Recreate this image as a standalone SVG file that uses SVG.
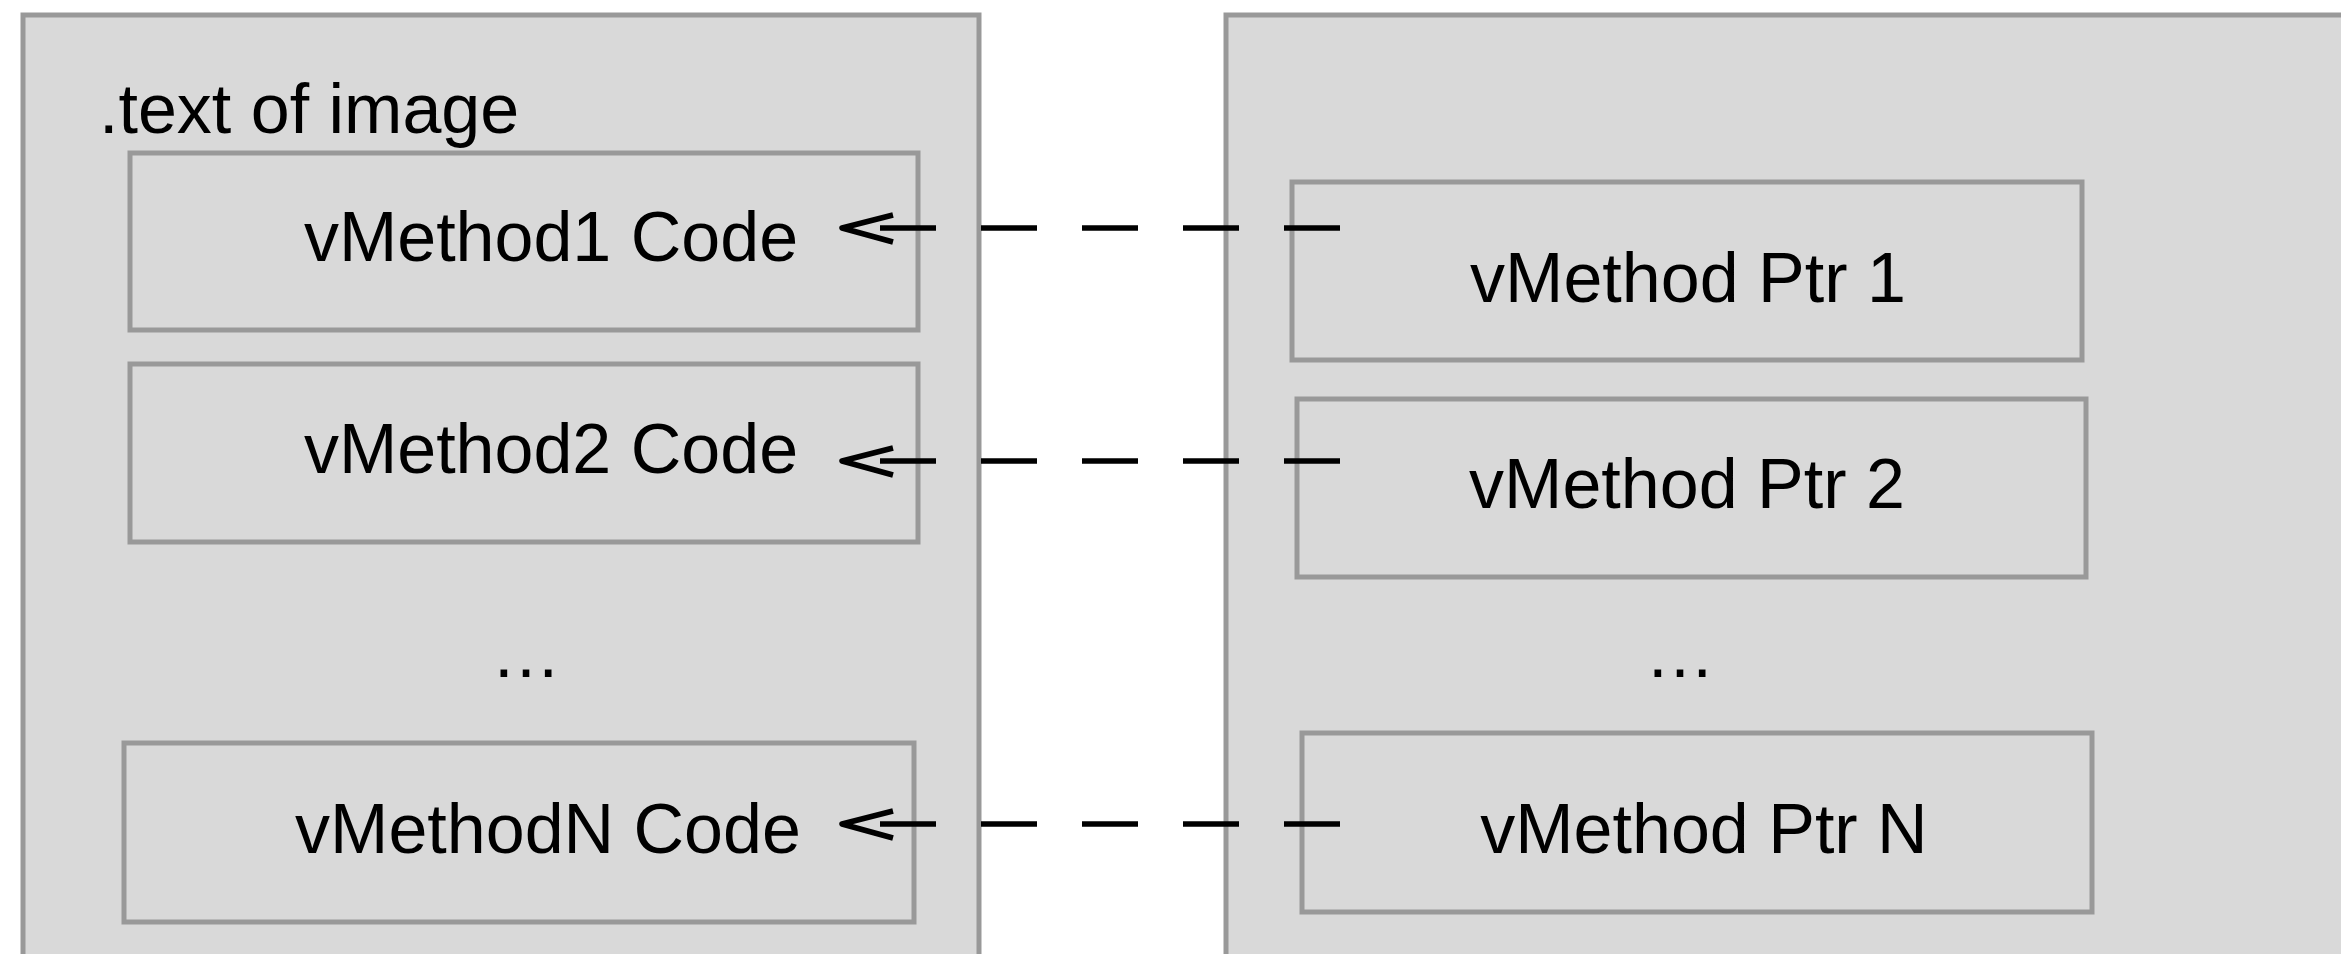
<svg xmlns="http://www.w3.org/2000/svg" width="2341" height="954" viewBox="0 0 2341 954">
  <style>
    .panel { fill: #d9d9d9; stroke: #999999; stroke-width: 5; }
    .box { fill: #d9d9d9; stroke: #999999; stroke-width: 5; }
    .label { font-family: "Liberation Sans", Arial, sans-serif; font-size: 70px; fill: #000000; }
    .mid { text-anchor: middle; }
    .link { fill: none; stroke: #000000; stroke-width: 5.5; stroke-dasharray: 56 45; }
    .head { fill: none; stroke: #000000; stroke-width: 5.5; stroke-linejoin: round; }
  </style>
  <rect width="2341" height="954" fill="#ffffff"/>

  <!-- code section of the image -->
  <g id="text-section">
    <rect class="panel" x="23" y="15" width="956" height="960"/>
    <text class="label" x="99" y="133">.text of image</text>
  </g>
  <g id="code1">
    <rect class="box" x="130" y="153" width="788" height="177"/>
    <text class="label mid" x="551" y="261">vMethod1 Code</text>
  </g>
  <g id="code2">
    <rect class="box" x="130" y="364" width="788" height="178"/>
    <text class="label mid" x="551" y="473">vMethod2 Code</text>
  </g>
  <g id="code-ellipsis">
    <text class="label mid" x="526" y="677">…</text>
  </g>
  <g id="codeN">
    <rect class="box" x="124" y="743" width="790" height="179"/>
    <text class="label mid" x="548" y="853">vMethodN Code</text>
  </g>

  <!-- virtual method table -->
  <g id="vtable">
    <rect class="panel" x="1226" y="15" width="1140" height="960"/>
  </g>
  <g id="ptr1">
    <rect class="box" x="1292" y="182" width="790" height="178"/>
    <text class="label mid" x="1688" y="302">vMethod Ptr 1</text>
  </g>
  <g id="ptr2">
    <rect class="box" x="1297" y="399" width="789" height="178"/>
    <text class="label mid" x="1687" y="508">vMethod Ptr 2</text>
  </g>
  <g id="ptr-ellipsis">
    <text class="label mid" x="1680" y="677">…</text>
  </g>
  <g id="ptrN">
    <rect class="box" x="1302" y="733" width="790" height="179"/>
    <text class="label mid" x="1704" y="853">vMethod Ptr N</text>
  </g>

  <!-- pointers into the code -->
  <g id="connectors">
    <line class="link" x1="1340" y1="228" x2="880" y2="228"/>
    <polyline class="head" points="893,215 842,228 893,242"/>
    <line class="link" x1="1340" y1="461" x2="880" y2="461"/>
    <polyline class="head" points="893,448 842,461 893,475"/>
    <line class="link" x1="1340" y1="824" x2="880" y2="824"/>
    <polyline class="head" points="893,811 842,824 893,838"/>
  </g>
</svg>
